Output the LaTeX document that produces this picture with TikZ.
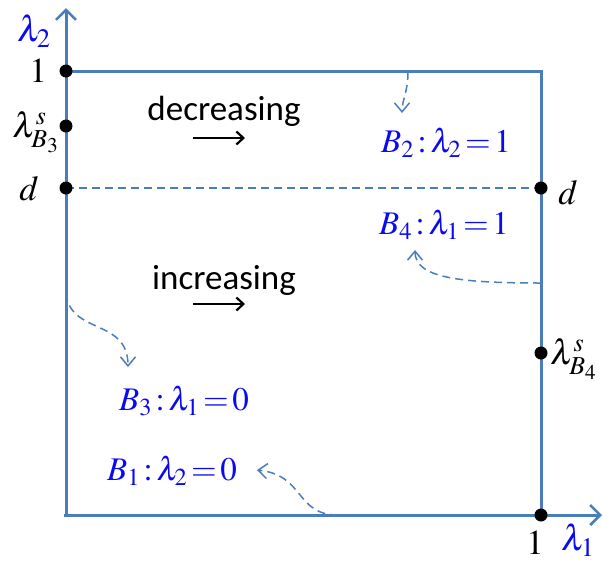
\documentclass[tikz,border=0pt]{standalone}
\usepackage{mathptmx}
\usepackage[no-math]{fontspec}
\setmainfont{Carlito}
\usetikzlibrary{arrows.meta}
\definecolor{axblue}{RGB}{74,126,187}
\definecolor{lblue}{RGB}{10,10,240}
\tikzset{
  axis/.style={axblue, line width=3pt},
  bline/.style={axblue, line width=3pt},
  dot/.style={circle, fill=black, inner sep=0pt, minimum size=13pt},
  dcurve/.style={axblue, line width=1.5pt, dash pattern=on 8pt off 5pt, -{Straight Barb[length=9pt,width=15pt,line width=1.5pt]}},
  mlab/.style={font=\fontsize{35}{38}\selectfont, inner sep=0pt},
  blab/.style={lblue, font=\fontsize{33}{36}\selectfont, inner sep=0pt},
  axlab/.style={lblue, font=\fontsize{36}{38}\selectfont, inner sep=0pt},
  wlab/.style={font=\fontsize{35}{40}\selectfont, inner sep=0pt},
  warr/.style={black, line width=2.2pt, -{Straight Barb[length=7pt,width=13pt,line width=2.2pt]}}
}
\begin{document}
\begin{tikzpicture}[x=1pt,y=-1pt]
\useasboundingbox (0,0) rectangle (603,563);
% axes
\coordinate (O) at (64,515);
\coordinate (ytop) at (66,8);
\coordinate (xend) at (602,515);
\coordinate (ybot) at (66,517);
\draw[axis, -{Straight Barb[length=10pt,width=20pt,line width=2.5pt]}] (ybot) -- (ytop);
\draw[axis, -{Straight Barb[length=10pt,width=20pt,line width=2.5pt]}] (O) -- (xend);
% box
\coordinate (tl) at (66,71);
\coordinate (tr) at (541,71);
\coordinate (br) at (541,515);
\draw[bline] (tl) -- (tr) -- (br);
% dashed d line
\coordinate (dl) at (66,188);
\coordinate (dr) at (541,188);
\draw[axblue, line width=1.5pt, dash pattern=on 8pt off 5pt] (dl) -- (dr);
% dots
\node[dot] (p1) at (66,71) {};
\node[dot] (pB3) at (66,126) {};
\node[dot] (pd) at (66,188) {};
\node[dot] (pdr) at (541,188) {};
\node[dot] (pB4) at (541,353) {};
\node[dot] (px1) at (541,515) {};
% axis labels
\node[mlab] (l1) at (38,71) {$1$};
\node[mlab, anchor=east] (lB3) at (59,132) {$\lambda^{s}_{B_3}$};
\node[mlab] (ld) at (29,189) {$d$};
\node[mlab] (ldr) at (568,193) {$d$};
\node[mlab, anchor=west] (lB4) at (550,359) {$\lambda^{s}_{B_4}$};
\node[mlab] (lx1) at (535,543) {$1$};
\node[axlab] (lam1) at (578,540) {$\lambda_1$};
\node[axlab] (lam2) at (34,31) {$\lambda_2$};
% words
\node[wlab] (dec) at (224,111) {decreasing};
\node[wlab] (inc) at (224,280) {increasing};
\coordinate (da1) at (193,138);
\coordinate (da2) at (245,138);
\draw[warr] (da1) -- (da2);
\coordinate (ia1) at (193,304);
\coordinate (ia2) at (245,304);
\draw[warr] (ia1) -- (ia2);
% boundary labels
\node[blab] (B2) at (446,143) {$B_2\!:\!\lambda_2\!=\!1$};
\node[blab] (B4) at (444,225) {$B_4\!:\!\lambda_1\!=\!1$};
\node[blab] (B3) at (184,401) {$B_3\!:\!\lambda_1\!=\!0$};
\node[blab] (B1) at (172,471) {$B_1\!:\!\lambda_2\!=\!0$};
% dashed curved arrows
\coordinate (c1s) at (408,72);
\coordinate (c1e) at (402,113);
\draw[dcurve] (c1s) .. controls (408,92) and (402,100) .. (c1e);
\coordinate (c2s) at (541,283);
\coordinate (c2e) at (415,250);
\draw[dcurve] (c2s) .. controls (460,283) and (415,278) .. (c2e);
\coordinate (c3s) at (66,293);
\coordinate (c3e) at (128,367);
\draw[dcurve] (c3s) .. controls (70,335) and (128,318) .. (c3e);
\coordinate (c4s) at (338,515);
\coordinate (c4e) at (257,470);
\draw[dcurve] (c4s) .. controls (295,515) and (305,475) .. (c4e);
\end{tikzpicture}
\end{document}
